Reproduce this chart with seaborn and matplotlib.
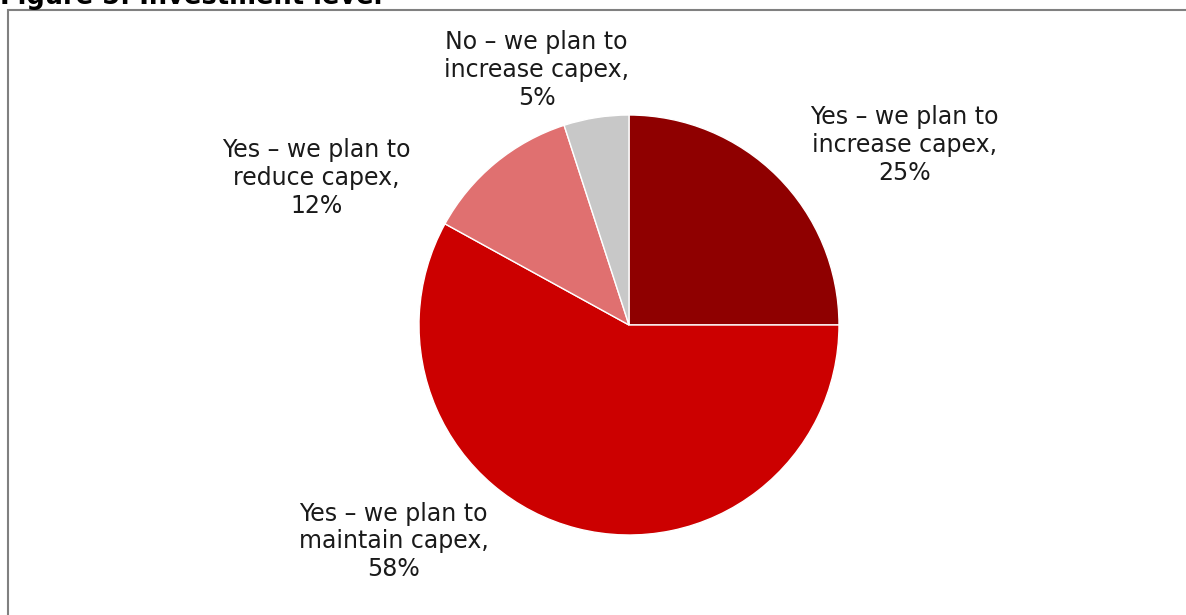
import matplotlib
matplotlib.use("Agg")
import matplotlib.pyplot as plt
from matplotlib.patches import Rectangle
import seaborn as sns

sns.set_theme(style="white")
plt.rcParams["font.family"] = ["DejaVu Sans"]

# Survey answers, in drawing order (clockwise from 12 o'clock)
categories = [
    "Yes – we plan to\nincrease capex",
    "Yes – we plan to\nmaintain capex",
    "Yes – we plan to\nreduce capex",
    "No – we plan to\nincrease capex",
]
shares = [25, 58, 12, 5]
colors = ["#8f0000", "#cc0000", "#e07070", "#c8c8c8"]

# Label anchor points (centre of each label block), in pie-radius units
label_pos = [(1.31, 0.857), (-1.12, -1.03), (-1.49, 0.70), (-0.44, 1.214)]

W, H, DPI = 1186, 615, 100
fig = plt.figure(figsize=(W / DPI, H / DPI), dpi=DPI)
fig.patch.set_facecolor("white")

# Axes spanning the full figure; pie centred at (629, 325) px with radius 210 px
cx, cy, R = 629, 325, 210
ax = fig.add_axes([0, 0, 1, 1])
ax.pie(
    shares,
    colors=colors,
    startangle=90,
    counterclock=False,
    radius=1.0,
    wedgeprops=dict(edgecolor="white", linewidth=1.0),
)
ax.set_xlim(-cx / R, (W - cx) / R)
ax.set_ylim(-(H - cy) / R, cy / R)
ax.set_aspect("auto")
ax.axis("off")

for cat, val, (lx, ly) in zip(categories, shares, label_pos):
    ax.text(lx, ly, f"{cat},\n{val}%", ha="center", va="center",
            fontsize=17, color="#1a1a1a", linespacing=1.2)

# Frame around the chart area
fig.patches.append(Rectangle((8 / W, -0.05), 1.2, (H - 10) / H + 0.05,
                             transform=fig.transFigure, fill=False,
                             edgecolor="#808080", linewidth=1.5))

# Figure caption
fig.text(0.0, 1 - 4 / H, "Figure 5: Investment level", ha="left",
         va="baseline", fontsize=18.5, fontweight="bold", color="#000000")

fig.savefig("out.png", dpi=DPI, facecolor="white")
